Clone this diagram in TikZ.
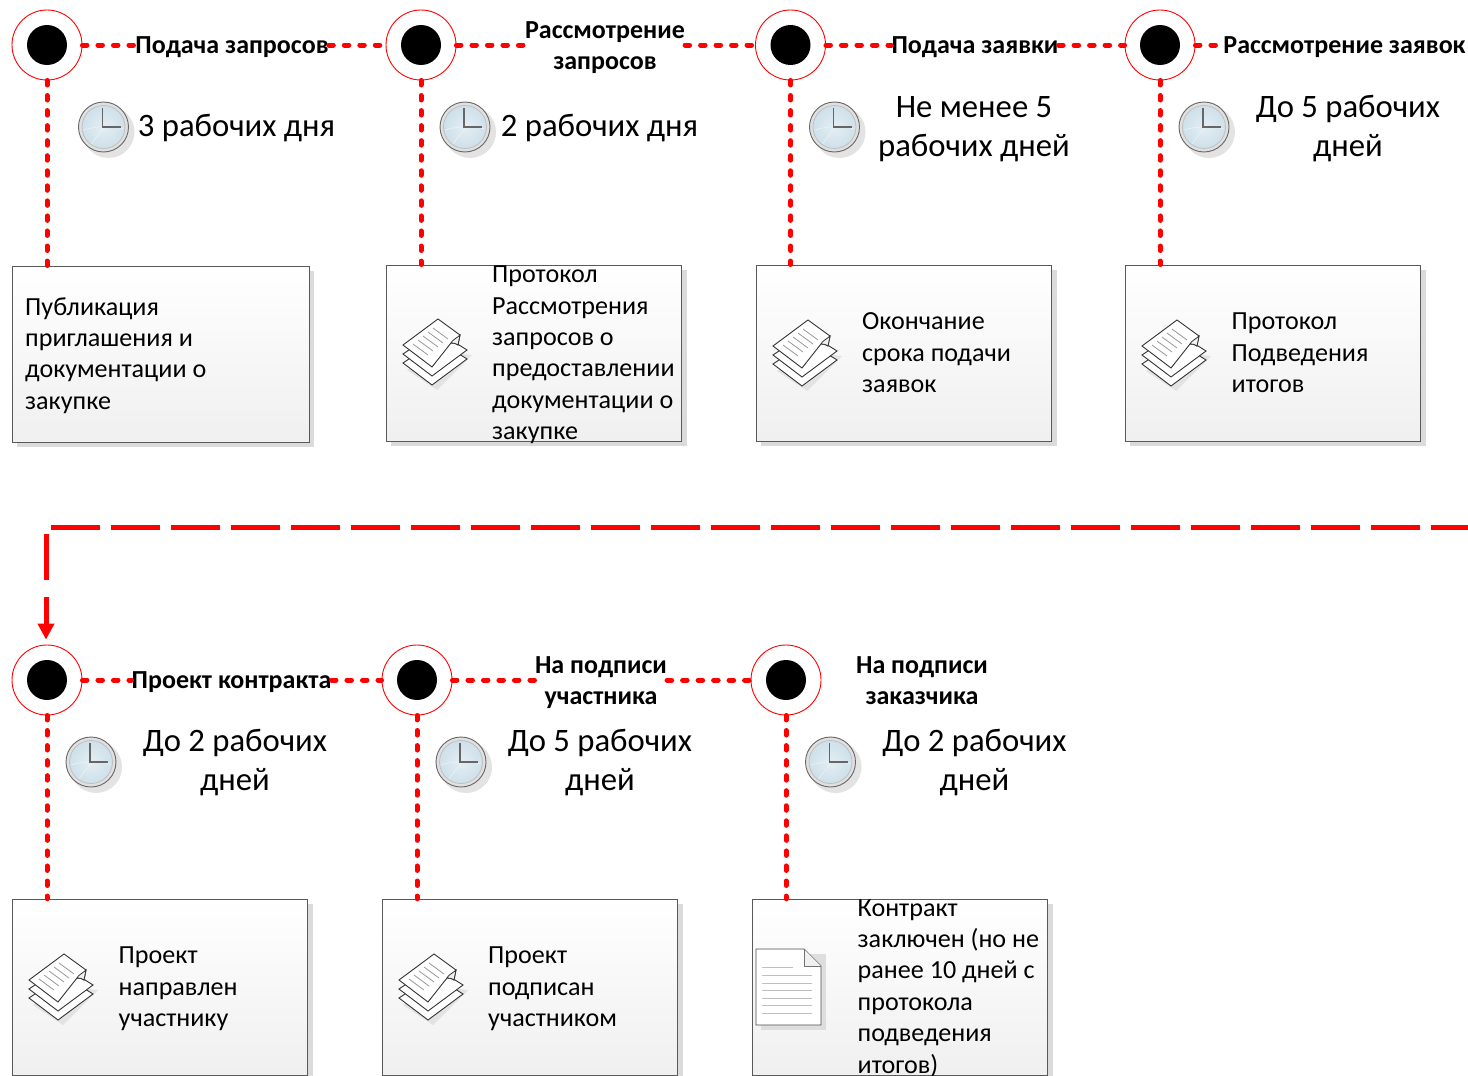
\documentclass[tikz,border=0pt]{standalone}
\usepackage{fontspec}
\setmainfont{Carlito}
\usetikzlibrary{shadows,arrows.meta}
\definecolor{linered}{RGB}{255,0,0}
\definecolor{clockface}{RGB}{206,224,234}
\tikzset{
  x=1pt,y=-1pt,
  ring/.style={circle,draw=linered,line width=0.9pt,fill=white,minimum size=70pt,inner sep=0pt},
  hub/.style={circle,fill=black,minimum size=40pt,inner sep=0pt},
  dotline/.style={draw=linered,line width=5pt,line cap=round,dash pattern=on 4.5pt off 11pt},
  dotdown/.style={draw=linered,line width=5pt,line cap=round,dash pattern=on 4.5pt off 10.55pt},
  longdash/.style={draw=linered,line width=5pt},
  boxnode/.style={rectangle,draw=black!65,line width=1pt,minimum width=295.5pt,minimum height=176pt,
    inner sep=0pt,top color=white,bottom color=black!6,
    drop shadow={shadow xshift=5pt,shadow yshift=-5pt,fill=black!14,opacity=1}},
  boxtext/.style={anchor=west,align=left,inner sep=0pt,font=\fontsize{26.1}{31.4}\selectfont},
  steplabel/.style={align=center,inner sep=0pt,font=\fontsize{26}{31}\selectfont\bfseries},
  timetext/.style={align=center,inner sep=0pt,font=\fontsize{32.7}{39}\selectfont},
  clock/.pic={
    \fill[black!11] (5,5) circle (26);
    \draw[black!60,line width=0.9pt,fill=black!12] (0,0) circle (25);
    \draw[black!25,line width=0.8pt,inner color=clockface!55!white,outer color=clockface] (0,0) circle (21.5);
    \draw[white!60!clockface,line width=0.6pt] (-20,3) .. controls (-8,-1) and (8,-1) .. (20,2);
    \draw[white!60!clockface,line width=0.6pt] (-12,17) .. controls (-6,8) and (0,3) .. (0,0);
    \draw[black!60,line width=1.1pt] (-1,-19) -- (-1,0) -- (17,0);
  },
  stacksheets/.pic={
    \fill[black!11] (-28,18) -- (0,-1) -- (37,3) -- (2,38) -- cycle;
    \draw[black!80,line width=0.9pt,fill=white] (-32,11) -- (2,-12) -- (32,7) -- (-3,33) -- cycle;
    \draw[black!80,line width=0.9pt,fill=white] (-32,2) -- (2,-21) -- (32,-2) -- (-3,24) -- cycle;
    \draw[black!80,line width=0.9pt,fill=white] (-32,-7) -- (3,-33) -- (25,-17) -- (23,-7) .. controls (20,-9) and (18,-9) .. (16,-9) -- (-3,15) -- cycle;
    \draw[black!80,line width=0.8pt,fill=black!6] (25,-17) .. controls (22,-14) and (17,-12) .. (16,-9) .. controls (18,-9) and (20,-9) .. (23,-7) -- cycle;
    \foreach \i in {0,1,2,3,4}{
      \draw[black!40,line width=0.8pt] (-22+\i*5,-8-\i*4) -- (-7+\i*5,3-\i*4);
    }
  },
  singledoc/.pic={
    \fill[black!13] (5,5) rectangle (70,81);
    \draw[black!70,line width=0.9pt,fill=white] (0,0) -- (48,0) -- (65,17) -- (65,76) -- (0,76) -- cycle;
    \draw[black!55,line width=0.7pt,fill=black!6] (48,0) -- (48,17) -- (65,17);
    \draw[black!25,line width=0.8pt] (6,18) -- (37,18);
    \foreach \y in {26,34,41,49,56,64}{\draw[black!25,line width=0.8pt] (6,\y) -- (56,\y);}
  }
}
\begin{document}
\begin{tikzpicture}
\useasboundingbox (0,0) rectangle (1468,1076);
\fill[white] (0,0) rectangle (1468,1076);

% rings
\foreach \n/\x/\y in {a/47/45,b/421/45,c/790.5/45,d/1160/45,e/47/680,f/417/680,g/786/680}{
  \node[ring] (\n) at (\x,\y) {};
  \node[hub] (h\n) at (\x,\y) {};
}

% boxes
\node[boxnode,minimum width=297pt] (ba) at (160.5,354) {};
\node[boxnode] (bb) at (534,353) {};
\node[boxnode] (bc) at (903.75,353) {};
\node[boxnode] (bd) at (1273,353) {};
\node[boxnode] (be) at (159.75,987.25) {};
\node[boxnode] (bf) at (529.75,987.25) {};
\node[boxnode] (bg) at (899.75,987.25) {};

% labels
\node[steplabel] (la) at (232,47) {Подача запросов};
\node[steplabel] (lb) at (605,47.5) {Рассмотрение\\запросов};
\node[steplabel] (lc) at (975,47) {Подача заявки};
\node[steplabel] (ld) at (1344.5,47) {Рассмотрение заявок};
\node[steplabel] (le) at (231.5,682) {Проект контракта};
\node[steplabel] (lf) at (601,682.5) {На подписи\\участника};
\node[steplabel] (lg) at (922,681) {На подписи\\заказчика};

% horizontal connectors
\path[dotline] (a.east) -- (a.east -| la.west);
\path[dotline] (a.east -| la.east) -- (b.west);
\path[dotline] (b.east) -- (b.east -| lb.west);
\path[dotline] (b.east -| lb.east) -- (c.west);
\path[dotline] (c.east) -- (c.east -| lc.west);
\path[dotline] (c.east -| lc.east) -- (d.west);
\path[dotline] (d.east) -- (d.east -| ld.west);
\path[dotline] (e.east) -- (e.east -| le.west);
\path[dotline] (e.east -| le.east) -- (f.west);
\path[dotline] (f.east) -- (f.east -| lf.west);
\path[dotline] (f.east -| lf.east) -- (g.west);

% vertical connectors
\foreach \n/\b in {a/ba,b/bb,c/bc,d/bd,e/be,f/bf,g/bg}{
  \path[dotdown] (\n.south) -- (\n.south |- \b.north);
}

% long dashed return line
\coordinate (farright) at (1468,527);
\coordinate (corner) at (51,527);
\coordinate (downstart) at (46,534);
\path[longdash,dash pattern=on 49pt off 11pt] (corner) -- (farright);
\path[longdash,dash pattern=on 46pt off 17pt,-{Triangle[length=16pt,width=16pt]},shorten >=5pt] (downstart) -- (e.north -| downstart);

% clocks
\foreach \x/\y in {103.5/127,465/127,834.5/127,1204/127,91/762,461/762,830.5/762}{
  \pic at (\x,\y) {clock};
}

% time labels
\node[timetext] (ta) at (236.5,128) {3 рабочих дня};
\node[timetext] (tb) at (599.5,128) {2 рабочих дня};
\node[timetext] (tc) at (974,129) {Не менее 5\\рабочих дней};
\node[timetext] (td) at (1348,129) {До 5 рабочих\\дней};
\node[timetext] (te) at (235,762.5) {До 2 рабочих\\дней};
\node[timetext] (tf) at (600,762.5) {До 5 рабочих\\дней};
\node[timetext] (tg) at (974.5,762.5) {До 2 рабочих\\дней};

% icons
\foreach \x/\y in {435/352,805/353,1174/353,61/987,431/987}{
  \pic at (\x,\y) {stacksheets};
}
\pic at (756,949) {singledoc};

% box texts
\node[boxtext] (xa) at (25,355.5) {Публикация\\приглашения и\\документации о\\закупке};
\node[boxtext] (xb) at (492,355) {Протокол\\Рассмотрения\\запросов о\\предоставлении\\документации о\\закупке};
\node[boxtext] (xc) at (862,353) {Окончание\\срока подачи\\заявок};
\node[boxtext] (xd) at (1231.5,353) {Протокол\\Подведения\\итогов};
\node[boxtext] (xe) at (118.5,989) {Проект\\направлен\\участнику};
\node[boxtext] (xf) at (488,989) {Проект\\подписан\\участником};
\node[boxtext] (xg) at (857.5,988) {Контракт\\заключен (но не\\ранее 10 дней с\\протокола\\подведения\\итогов)};
\end{tikzpicture}
\end{document}
